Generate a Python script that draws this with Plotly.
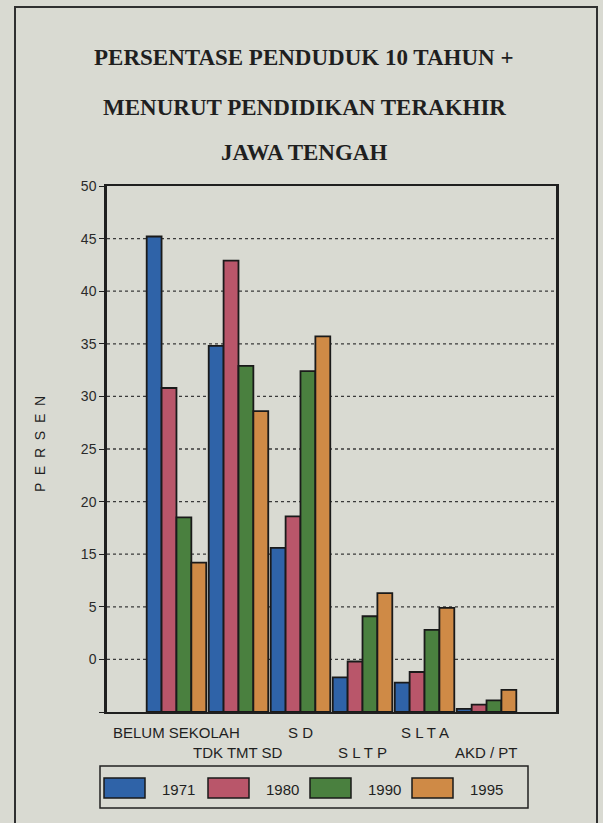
import plotly.graph_objects as go

# Education level categories (x axis) and their two-row labels
categories = ["BELUM SEKOLAH", "TDK TMT SD", "S D", "S L T P", "S L T A", "AKD / PT"]
years = ["1971", "1980", "1990", "1995"]

# Percentage of population aged 10+ by last education attained
pct_1971 = [45.2, 34.8, 15.6, 3.3, 2.8, 0.3]
pct_1980 = [30.8, 42.9, 18.6, 4.8, 3.8, 0.7]
pct_1990 = [18.5, 32.9, 32.4, 9.1, 7.8, 1.1]
pct_1995 = [14.2, 28.6, 35.7, 11.3, 9.9, 2.1]

# Y tick labels as printed on the axis
y_tickvals = [0, 5, 10, 15, 20, 25, 30, 35, 40, 45, 50]
y_ticktext = ["", "0", "5", "15", "20", "25", "30", "35", "40", "45", "50"]

colors = ["#2f63a8", "#b9566a", "#4a803f", "#cf8a46"]
series = [pct_1971, pct_1980, pct_1990, pct_1995]

paper = "#d9dad2"
ink = "#1f1f1f"

# Pixel-to-paper helpers for the fixed plot area
PL, PT, PW, PH = 107, 186, 449, 526
def px(x):
    return (x - PL) / PW
def py(y):
    return (PT + PH - y) / PH

fig = go.Figure()
xs = list(range(len(categories)))
for name, vals, col in zip(years, series, colors):
    fig.add_trace(go.Bar(
        x=xs, y=vals, name=name,
        marker=dict(color=col, line=dict(color="#1a1a1a", width=1.8)),
        showlegend=False,
    ))

shapes = []
annotations = []

# Outer frame
shapes.append(dict(type="rect", xref="paper", yref="paper",
                   x0=px(15), x1=px(597), y0=py(840), y1=py(7),
                   line=dict(color="#303030", width=2), layer="below"))

# Dotted horizontal grid
for v in range(5, 50, 5):
    shapes.append(dict(type="line", xref="paper", yref="y", x0=0, x1=1, y0=v, y1=v,
                       line=dict(color="#3a3a3a", width=1.3, dash="dot"), layer="below"))

# Title lines
title_lines = ["PERSENTASE PENDUDUK 10 TAHUN +",
               "MENURUT PENDIDIKAN TERAKHIR",
               "JAWA TENGAH"]
title_y = [58, 107, 152]
for t, ty in zip(title_lines, title_y):
    annotations.append(dict(text="<b>" + t + "</b>", xref="paper", yref="paper",
                            x=px(304), y=py(ty),
                            showarrow=False, xanchor="center", yanchor="middle",
                            font=dict(family="Liberation Serif", size=23, color=ink)))

# Staggered category labels
label_rows = [0, 1, 0, 1, 0, 1]
for i, (lab, row) in enumerate(zip(categories, label_rows)):
    annotations.append(dict(text=lab, xref="x", yref="paper", x=i,
                            y=py(732 + 20 * row), showarrow=False,
                            xanchor="center", yanchor="middle",
                            font=dict(family="Liberation Sans Narrow, Liberation Sans", size=15, color=ink)))

# Y axis title
annotations.append(dict(text="P  E  R  S  E  N", xref="paper", yref="paper",
                        x=px(40), y=py(444), textangle=-90,
                        showarrow=False, xanchor="center", yanchor="middle",
                        font=dict(family="Liberation Sans", size=14, color=ink)))

# Legend box with swatches
shapes.append(dict(type="rect", xref="paper", yref="paper",
                   x0=px(100), x1=px(528), y0=py(808), y1=py(766),
                   line=dict(color="#222222", width=1.5), fillcolor=paper))
sw_x = [104, 208, 310, 412]
for name, col, sx in zip(years, colors, sw_x):
    shapes.append(dict(type="rect", xref="paper", yref="paper",
                       x0=px(sx), x1=px(sx + 41),
                       y0=py(798), y1=py(778),
                       fillcolor=col, line=dict(color="#1a1a1a", width=1.5)))
    annotations.append(dict(text=name, xref="paper", yref="paper",
                            x=px(sx + 74), y=py(789),
                            showarrow=False, xanchor="center", yanchor="middle",
                            font=dict(family="Liberation Sans", size=15, color=ink)))

fig.update_layout(
    width=603, height=823,
    margin=dict(l=PL, r=603 - PL - PW, t=PT, b=823 - PT - PH),
    paper_bgcolor=paper, plot_bgcolor=paper,
    barmode="group", bargap=0.04, bargroupgap=0.0,
    shapes=shapes, annotations=annotations,
    xaxis=dict(range=[-1.12, 6.12], showticklabels=False, showgrid=False, zeroline=False,
               showline=True, linecolor=ink, linewidth=2, mirror=True, ticks=""),
    yaxis=dict(range=[0, 50], tickvals=y_tickvals, ticktext=y_ticktext,
               showgrid=False, zeroline=False, showline=True, linecolor=ink, linewidth=2.5,
               mirror=True, ticks="outside", ticklen=5, tickcolor=ink,
               tickfont=dict(family="Liberation Sans", size=14, color="#2a2a2a")),
)

fig.write_html("out.html")
